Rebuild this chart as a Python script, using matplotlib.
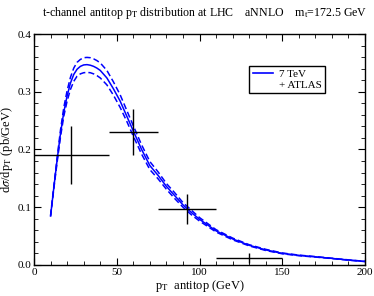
import matplotlib
matplotlib.use("Agg")
import matplotlib.pyplot as plt
from matplotlib.lines import Line2D
from matplotlib.ticker import MultipleLocator

# aNNLO antitop pT distribution, 7 TeV (central and scale band)
pt = [10, 12, 14, 16, 18, 20, 22, 24, 26, 28, 30, 32, 34, 36, 38, 40, 44, 48,
      52, 56, 60, 65, 70, 75, 80, 85, 90, 95, 100, 110, 120, 130, 140, 150,
      160, 170, 180, 190, 200]
central = [0.085, 0.135, 0.183, 0.228, 0.265, 0.293, 0.315, 0.330, 0.339,
           0.344, 0.3465, 0.347, 0.346, 0.344, 0.341, 0.337, 0.324, 0.305,
           0.284, 0.258, 0.232, 0.200, 0.172, 0.155, 0.136, 0.120, 0.104,
           0.091, 0.079, 0.059, 0.045, 0.034, 0.026, 0.020, 0.0165, 0.014,
           0.0113, 0.0085, 0.006]
upper = [0.086, 0.137, 0.187, 0.234, 0.273, 0.302, 0.325, 0.341, 0.351,
         0.356, 0.359, 0.3595, 0.359, 0.357, 0.354, 0.350, 0.337, 0.317,
         0.295, 0.268, 0.241, 0.208, 0.179, 0.161, 0.141, 0.125, 0.108,
         0.095, 0.082, 0.061, 0.0465, 0.035, 0.027, 0.0207, 0.017, 0.0144,
         0.0116, 0.0088, 0.0062]
lower = [0.084, 0.133, 0.179, 0.222, 0.258, 0.284, 0.304, 0.318, 0.327,
         0.331, 0.333, 0.3335, 0.333, 0.331, 0.328, 0.324, 0.312, 0.294,
         0.273, 0.249, 0.223, 0.192, 0.165, 0.149, 0.131, 0.115, 0.100,
         0.087, 0.076, 0.057, 0.0435, 0.033, 0.025, 0.0193, 0.016, 0.0136,
         0.011, 0.0082, 0.0058]

# ATLAS data: bin centres, half widths, values, errors
atlas_x = [22.5, 60, 92.5, 130]
atlas_xerr = [22.5, 15, 17.5, 20]
atlas_y = [0.19, 0.23, 0.097, 0.012]
atlas_yerr = [0.05, 0.04, 0.026, 0.009]

plt.rcParams["font.family"] = ["Liberation Serif", "DejaVu Serif"]
plt.rcParams["mathtext.fontset"] = "stix"

fig = plt.figure(figsize=(3.74, 2.96), dpi=100)
ax = fig.add_axes([0.091, 0.105, 0.885, 0.78])

ax.plot(pt, central, color="#0000ff", lw=1.1)
ax.plot(pt, upper, color="#0000ff", lw=1.1, dashes=(4, 2))
ax.plot(pt, lower, color="#0000ff", lw=1.1, dashes=(4, 2))
ax.errorbar(atlas_x, atlas_y, xerr=atlas_xerr, yerr=atlas_yerr, fmt="none",
            ecolor="black", elinewidth=1.0, capsize=0)

ax.set_xlim(0, 200)
ax.set_ylim(0, 0.4)
ax.xaxis.set_major_locator(MultipleLocator(50))
ax.xaxis.set_minor_locator(MultipleLocator(10))
ax.yaxis.set_major_locator(MultipleLocator(0.1))
ax.yaxis.set_minor_locator(MultipleLocator(0.02))
ax.yaxis.set_major_formatter(plt.FuncFormatter(lambda v, p: f"{v:.1f}"))
ax.tick_params(which="both", direction="in", top=True, right=True,
               labelsize=8, pad=2)
ax.tick_params(which="major", length=5)
ax.tick_params(which="minor", length=3)
for s in ax.spines.values():
    s.set_linewidth(1.0)

ax.set_xlabel(r"p$_\mathrm{T}$  antitop (GeV)", fontsize=9, labelpad=1)
ax.set_ylabel(r"d$\sigma$/dp$_\mathrm{T}$ (pb/GeV)", fontsize=9, labelpad=0)
ax.yaxis.set_label_coords(-0.058, 0.5)
fig.text(0.547, 0.955,
         r"t-channel antitop p$_\mathrm{T}$ distribution at LHC    aNNLO    m$_\mathrm{t}$=172.5 GeV",
         ha="center", va="center", fontsize=8.6)

handles = [Line2D([], [], color="#0000ff", lw=1.2),
           Line2D([], [], color="none")]
leg = ax.legend(handles, ["7 TeV", "+ ATLAS"], loc="upper left",
                bbox_to_anchor=(0.65, 0.862), fontsize=8, frameon=True,
                fancybox=False, edgecolor="black", framealpha=1,
                handlelength=1.8, handletextpad=0.6, borderpad=0.3,
                labelspacing=0.1, borderaxespad=0)
leg.get_frame().set_linewidth(1.0)

fig.savefig("out.png", dpi=100)
